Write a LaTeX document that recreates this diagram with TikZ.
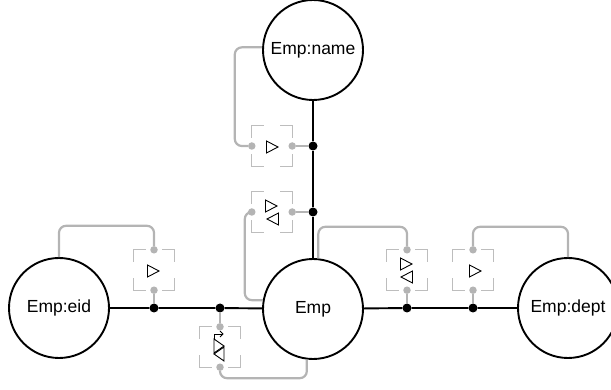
\documentclass[tikz,border=0pt]{standalone}
\usepackage{fontspec}
\setmainfont{Liberation Sans}
\usetikzlibrary{calc}
\definecolor{wire}{HTML}{B4B4B4}
\definecolor{frame}{HTML}{BDBDBD}
\begin{document}
\begin{tikzpicture}[x=1pt,y=-1pt,
  entity/.style={circle,draw,line width=1.9pt,minimum size=100pt,inner sep=0pt,
    font=\fontsize{17.5}{19}\selectfont},
  port/.style={circle,fill=wire,inner sep=0pt,minimum size=7.5pt},
  joint/.style={circle,fill=black,inner sep=0pt,minimum size=9pt},
  opbox/.style={rectangle,minimum size=40pt,inner sep=0pt},
  mainline/.style={line width=1.9pt},
  wireline/.style={wire,line width=2.2pt,rounded corners=7pt},
  cornerline/.style={frame,line width=1pt},
  glyph/.style={line width=0.9pt,line join=miter},
  fwd/.pic={\draw[glyph] (-5.5,-6) -- (6,0) -- (-5.5,6) -- cycle;},
  bwd/.pic={\draw[glyph] (5.5,-6) -- (-6,0) -- (5.5,6) -- cycle;}
]
\useasboundingbox (0,0) rectangle (611,390);

% entities
\node[entity] (name) at (313,50)  {Emp:name};
\node[entity] (emp)  at (313,309) {Emp};
\node[entity] (eid)  at (59,308)  {Emp:eid};
\node[entity] (dept) at (568,308) {Emp:dept};

% junction points on the main lines
\node[joint] (j1) at (154,308) {};
\node[joint] (j2) at (220,308) {};
\node[joint] (j3) at (407,308) {};
\node[joint] (j4) at (473,308) {};
\node[joint] (j5) at (313,146) {};
\node[joint] (j6) at (313,212) {};

% operator boxes
\node[opbox] (bn1) at (272,146) {};
\node[opbox] (bn2) at (272,212) {};
\node[opbox] (be)  at (154,270) {};
\node[opbox] (bb)  at (220,347) {};
\node[opbox] (br1) at (407,270) {};
\node[opbox] (br2) at (473,270) {};

\foreach \b in {bn1,bn2,be,bb,br1,br2}{
  \draw[cornerline] ([yshift=-12pt]\b.north west) -- (\b.north west) -- ([xshift=12pt]\b.north west);
  \draw[cornerline] ([yshift=-12pt]\b.north east) -- (\b.north east) -- ([xshift=-12pt]\b.north east);
  \draw[cornerline] ([yshift=12pt]\b.south west) -- (\b.south west) -- ([xshift=12pt]\b.south west);
  \draw[cornerline] ([yshift=12pt]\b.south east) -- (\b.south east) -- ([xshift=-12pt]\b.south east);
}

% ports
\node[port] (bn1w) at (bn1.west) {};
\node[port] (bn1e) at (bn1.east) {};
\node[port] (bn2w) at (bn2.west) {};
\node[port] (bn2e) at (bn2.east) {};
\node[port] (ben)  at (be.north) {};
\node[port] (bes)  at (be.south) {};
\node[port] (bbn)  at (bb.north) {};
\node[port] (bbs)  at (bb.south) {};
\node[port] (br1n) at (br1.north) {};
\node[port] (br1s) at (br1.south) {};
\node[port] (br2n) at (br2.north) {};
\node[port] (br2s) at (br2.south) {};

% main black lines
\draw[mainline] (eid) -- (j1) -- (j2) -- (emp);
\draw[mainline] (emp) -- (j3) -- (j4) -- (dept);
\draw[mainline] (emp) -- (j6) -- (j5) -- (name);

% gray wires
\draw[wireline] (bn1w) -- ++(-17,0) |- (name.177);
\draw[wireline] (bn1e) -- (j5);
\draw[wireline] (bn2w) -- ++(-7,0) |- (emp.170);
\draw[wireline] (bn2e) -- (j6);
\draw[wireline] (ben) -- ++(0,-24) -| (eid.north);
\draw[wireline] (bes) -- (j1);
\draw[wireline] (bbn) -- (j2);
\draw[wireline] (bbs) -- ++(0,11) -| (emp.263);
\draw[wireline] (br1n) -- ++(0,-23) -| (emp.84);
\draw[wireline] (br1s) -- (j3);
\draw[wireline] (br2n) -- ++(0,-23) -| (dept.north);
\draw[wireline] (br2s) -- (j4);

% operator glyphs
\pic at ([shift={(0,1)}]bn1.center) {fwd};
\pic at ([shift={(-1,-6)}]bn2.center) {fwd};
\pic at ([shift={(1,7)}]bn2.center) {bwd};
\pic at ([shift={(-1,1)}]be.center) {fwd};
\pic at ([shift={(-1,-6)}]br1.center) {fwd};
\pic at ([shift={(0,7)}]br1.center) {bwd};
\pic at ([shift={(2,1)}]br2.center) {fwd};
\begin{scope}[shift={(bb.center)}]
  \draw[glyph] (-6,-8) -- (-6,-13) -- (3,-13);
  \draw[glyph] (0,-16) -- (3,-13) -- (0,-10);
  \draw[glyph] (-6,-8) -- (4,-1) -- (-6,6) -- cycle;
  \draw[glyph] (4,0) -- (4,14) -- (-6,7) -- cycle;
\end{scope}
\end{tikzpicture}
\end{document}
